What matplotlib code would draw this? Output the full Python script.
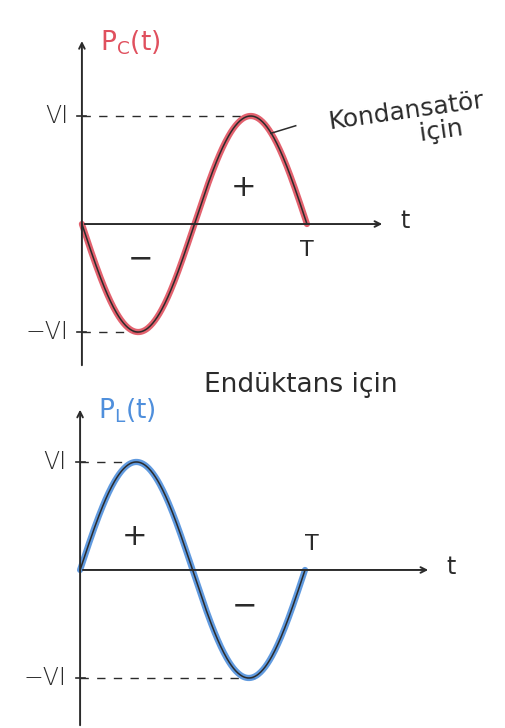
import matplotlib.pyplot as plt
import numpy as np

# period and peak power (VI) of the instantaneous power curves
period = 1.0
peak = 1.0
n_samples = 300

level_ticks = [peak, -peak]
level_labels = ["VI", "−VI"]

ink = "#2b2b2b"
red = "#e0505e"
blue = "#4f8fdc"

plt.rcParams["font.family"] = ["DejaVu Sans"]

t = np.linspace(0, period, n_samples)
p_cap = -peak * np.sin(2 * np.pi * t / period)
p_ind = peak * np.sin(2 * np.pi * t / period)

fig = plt.figure(figsize=(5.05, 7.28), dpi=100)
fig.patch.set_facecolor("white")

ax_c = fig.add_axes([0, 360 / 728, 1, 360 / 728])
ax_l = fig.add_axes([0, 0, 1, 368 / 728])


def draw_panel(ax, p, color, name, ylim, xlim, arrow_top, arrow_len,
               dash_ends):
    ax.set_xlim(*xlim)
    ax.set_ylim(*ylim)
    ax.axis("off")
    # axes drawn by hand with open arrow heads
    ax.annotate("", xy=(0, arrow_top), xytext=(0, ylim[0]),
                arrowprops=dict(arrowstyle="->", color=ink, lw=1.4))
    ax.annotate("", xy=(arrow_len, 0), xytext=(0, 0),
                arrowprops=dict(arrowstyle="->", color=ink, lw=1.4))
    ax.text(arrow_len + 0.07, 0.03, "t", fontsize=17, color=ink,
            ha="left", va="center")
    # dashed guide lines at +VI and -VI
    for level, label, x_end in zip(level_ticks, level_labels, dash_ends):
        ax.plot([0, x_end], [level, level], color=ink, lw=1.0,
                dashes=(6, 6))
        ax.plot([-0.02, 0.02], [level, level], color=ink, lw=1.2)
        ax.text(-0.06, level, label, fontsize=17, color=ink,
                ha="right", va="center", fontweight="light")
    # coloured marker stroke under the pencil line
    ax.plot(t, p, color=color, lw=4.5, alpha=0.9, solid_capstyle="round")
    ax.plot(t, p, color=ink, lw=1.1)
    ax.text(0.08, arrow_top - 0.04, name, fontsize=19, color=color,
            ha="left", va="center")


draw_panel(ax_c, p_cap, red, r"$\mathrm{P_C(t)}$", (-1.333, 2.0),
           (-0.364, 1.88), 1.72, 1.347, (0.75, 0.25))
draw_panel(ax_l, p_ind, blue, r"$\mathrm{P_L(t)}$", (-1.463, 1.944),
           (-0.356, 1.889), 1.51, 1.56, (0.28, 0.78))

# signs of the power half-cycles
ax_c.text(0.72, 0.34, "+", fontsize=22, color=ink, ha="center", va="center")
ax_c.text(0.26, -0.32, "−", fontsize=22, color=ink, ha="center", va="center")
ax_l.text(0.24, 0.31, "+", fontsize=22, color=ink, ha="center", va="center")
ax_l.text(0.73, -0.33, "−", fontsize=22, color=ink, ha="center", va="center")

# period marks
ax_c.text(period, -0.24, "T", fontsize=16, color=ink, ha="center",
          va="center")
ax_l.text(period + 0.03, 0.24, "T", fontsize=16, color=ink, ha="center",
          va="center")

# captions
ax_c.plot([0.84, 0.95], [0.84, 0.91], color=ink, lw=1.1)
ax_c.text(1.45, 0.93, "Kondansatör\n        için", fontsize=18, color=ink,
          ha="center", va="center", rotation=8, linespacing=1.05)
ax_l.text(0.98, 1.71, "Endüktans için", fontsize=19, color=ink,
          ha="center", va="center")

fig.savefig("out.png", dpi=100, facecolor="white")
